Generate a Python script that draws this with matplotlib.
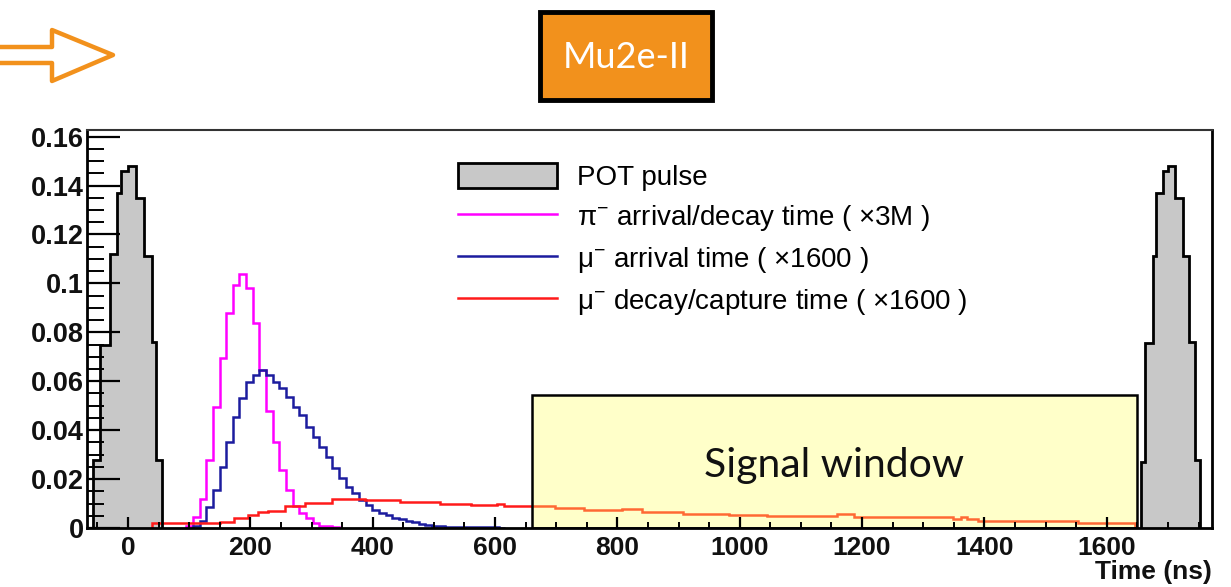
import numpy as np
import matplotlib
matplotlib.use("Agg")
import matplotlib.pyplot as plt
from matplotlib.patches import Rectangle, Patch
from matplotlib.lines import Line2D
from matplotlib.ticker import MultipleLocator, FuncFormatter

# ---------------- data ----------------
# POT pulses: bin edges (ns) and heights
pot_left_edges = [-57, -46, -30, -18, -11, 0, 13, 26, 39, 45, 56]
pot_left_vals = [0.028, 0.075, 0.112, 0.137, 0.146, 0.148, 0.135, 0.111, 0.076, 0.028]
pot_right_edges = [1656, 1663, 1676, 1680, 1692, 1700, 1712, 1725, 1735, 1745, 1753]
pot_right_vals = [0.027, 0.0757, 0.111, 0.137, 0.146, 0.148, 0.135, 0.111, 0.076, 0.028]

# common histogram binning for pi / mu arrival histograms
hist_origin = -100.0
bin_width = 1900.0 / 175

pion_first_bin = 18
pion_vals = [0.0008, 0.0046, 0.012, 0.028, 0.0496, 0.0695, 0.0878, 0.0994, 0.104,
             0.098, 0.0838, 0.0646, 0.048, 0.0353, 0.0237, 0.0155, 0.009, 0.006,
             0.004, 0.002, 0.001, 0.0008, 0.0005]

muon_first_bin = 19
muon_arr_vals = [0.001, 0.003, 0.0087, 0.0155, 0.025, 0.0353, 0.0455, 0.053, 0.0598,
                 0.0626, 0.0646, 0.0626, 0.0598, 0.0572, 0.0537, 0.0496, 0.0462,
                 0.0414, 0.0373, 0.0332, 0.029, 0.0245, 0.0204, 0.0169, 0.0143,
                 0.0115, 0.0094, 0.0074, 0.0062, 0.0052, 0.0042, 0.0035, 0.0028,
                 0.0024, 0.0018, 0.0014, 0.0010, 0.0007, 0.0006, 0.0005, 0.0005,
                 0.0004, 0.0004, 0.0004, 0.0003, 0.0003, 0.0002]

# mu decay/capture time: step levels
muon_dec_edges = [40, 151, 173, 196, 213, 229, 256, 289, 333, 388, 444, 510, 560, 603,
                  614, 654, 698, 745, 759, 807, 841, 908, 983, 1044, 1159, 1186, 1349,
                  1362, 1372, 1390, 1553, 1646]
muon_dec_vals = [0.0019, 0.0026, 0.0040, 0.0053, 0.0067, 0.0071, 0.0090, 0.0103, 0.0117,
                 0.0115, 0.0108, 0.0100, 0.0094, 0.0097, 0.0090, 0.0088, 0.0080, 0.0074,
                 0.0074, 0.0077, 0.0067, 0.0057, 0.0053, 0.0049, 0.0056, 0.0044, 0.0036,
                 0.0043, 0.0036, 0.0030, 0.0022]

signal_window = (660, 1650)
signal_window_top = 0.0544

x_ticks = [0, 200, 400, 600, 800, 1000, 1200, 1400, 1600]
legend_labels = ["POT pulse",
                 "π$^{-}$ arrival/decay time ( ×3M )",
                 "μ$^{-}$ arrival time ( ×1600 )",
                 "μ$^{-}$ decay/capture time ( ×1600 )"]
title_text = "Mu2e-II"
window_text = "Signal window"
x_label = "Time (ns)"

# ---------------- figure ----------------
W, H, DPI = 1231, 587, 100
plt.rcParams['font.family'] = ['Liberation Sans', 'DejaVu Sans']
plt.rcParams['mathtext.fontset'] = 'custom'
plt.rcParams['mathtext.rm'] = 'Liberation Sans'
plt.rcParams['mathtext.it'] = 'Liberation Sans:italic'
plt.rcParams['mathtext.bf'] = 'Liberation Sans:bold'

fig = plt.figure(figsize=(W / DPI, H / DPI), dpi=DPI)
fig.patch.set_facecolor('white')

def fx(px):
    return px / W

def fy(py):
    return 1 - py / H

ax = fig.add_axes([fx(87), fy(528), fx(1212) - fx(87), fy(130) - fy(528)])
ax.set_xlim(-67, 1772)
ax.set_ylim(0, 0.1627)
ax.set_axisbelow(False)

GRAY = '#c8c8c8'
MAG = '#ff00ff'
BLUE = '#1c1c9e'
RED = '#ff1a1a'

for edges, vals in [(pot_left_edges, pot_left_vals), (pot_right_edges, pot_right_vals)]:
    ax.stairs(vals, edges, fill=True, facecolor=GRAY, edgecolor='none', zorder=1.9)
    ax.stairs(vals, edges, baseline=0, color='black', lw=2.0, zorder=2.1)

pion_edges = hist_origin + bin_width * np.arange(pion_first_bin, pion_first_bin + len(pion_vals) + 1)
muon_edges = hist_origin + bin_width * np.arange(muon_first_bin, muon_first_bin + len(muon_arr_vals) + 1)

ax.stairs(pion_vals, pion_edges, baseline=0, color=MAG, lw=1.8, zorder=2.0)
ax.stairs(muon_arr_vals, muon_edges, baseline=0, color=BLUE, lw=1.8, zorder=2.0)
ax.stairs(muon_dec_vals, muon_dec_edges, baseline=0, color=RED, lw=1.8, zorder=2.0)

# signal window (semi-transparent overlay)
ax.add_patch(Rectangle((signal_window[0], 0), signal_window[1] - signal_window[0],
                       signal_window_top, facecolor='#ffff66', alpha=0.35,
                       edgecolor='none', zorder=2.2))
ax.add_patch(Rectangle((signal_window[0], 0), signal_window[1] - signal_window[0],
                       signal_window_top, facecolor='none', edgecolor='black',
                       lw=1.8, zorder=2.3))
ax.text((signal_window[0] + signal_window[1]) / 2, signal_window_top * 0.47, window_text,
        ha='center', va='center', fontsize=29.5, family=['Lato', 'DejaVu Sans'],
        color='#111111', zorder=2.4)

# axes style (ROOT-like)
for sp in ax.spines.values():
    sp.set_linewidth(2.0)
    sp.set_color('black')
ax.spines['top'].set_color('#333333')
ax.spines['top'].set_linewidth(1.5)

ax.set_xticks(x_ticks)
ax.xaxis.set_minor_locator(MultipleLocator(50))
ax.yaxis.set_major_locator(MultipleLocator(0.02))
ax.yaxis.set_minor_locator(MultipleLocator(0.005))
ax.yaxis.set_major_formatter(FuncFormatter(lambda v, p: '%g' % round(v, 4)))
ax.tick_params(axis='both', which='both', direction='in', top=False, right=False,
               color='black')
ax.tick_params(axis='y', which='major', length=24, width=1.6, pad=2, labelsize=19.5)
ax.tick_params(axis='y', which='minor', length=12, width=1.4)
ax.tick_params(axis='x', which='major', length=8, width=1.6, pad=6, labelsize=19)
ax.tick_params(axis='x', which='minor', length=4.5, width=1.4)
for lab in ax.get_xticklabels() + ax.get_yticklabels():
    lab.set_fontweight('bold')
    lab.set_color('#111111')

fig.text(fx(1212), fy(572), x_label, ha='right', va='center', fontsize=19,
         fontweight='bold', color='#111111')

# legend
handles = [Patch(facecolor=GRAY, edgecolor='black', lw=2.0),
           Line2D([], [], color=MAG, lw=1.8),
           Line2D([], [], color=BLUE, lw=1.8),
           Line2D([], [], color=RED, lw=1.8)]
leg = fig.legend(handles, legend_labels, loc='upper left',
                 bbox_to_anchor=(fx(458), fy(163)), frameon=False, fontsize=20,
                 handlelength=3.55, handleheight=1.0, handletextpad=0.75,
                 labelspacing=0.43, borderpad=0, borderaxespad=0)

# title box
ORANGE = '#f2911c'
fig.add_artist(Rectangle((fx(540), fy(100)), fx(712) - fx(540), fy(12) - fy(100),
                         transform=fig.transFigure, facecolor=ORANGE,
                         edgecolor='black', lw=3.5))
fig.text(fx(626), fy(57), title_text, ha='center', va='center', fontsize=26,
         color='white', family=['Lato', 'DejaVu Sans'])

# hollow arrow at top left
arrow_px = [(0, 47), (52, 47), (52, 30), (113, 55), (52, 81), (52, 63), (0, 63)]
fig.add_artist(Line2D([fx(p[0]) for p in arrow_px], [fy(p[1]) for p in arrow_px],
                      transform=fig.transFigure, color=ORANGE, lw=3.2,
                      solid_joinstyle='round', solid_capstyle='butt'))

fig.savefig('out.png', dpi=DPI)
